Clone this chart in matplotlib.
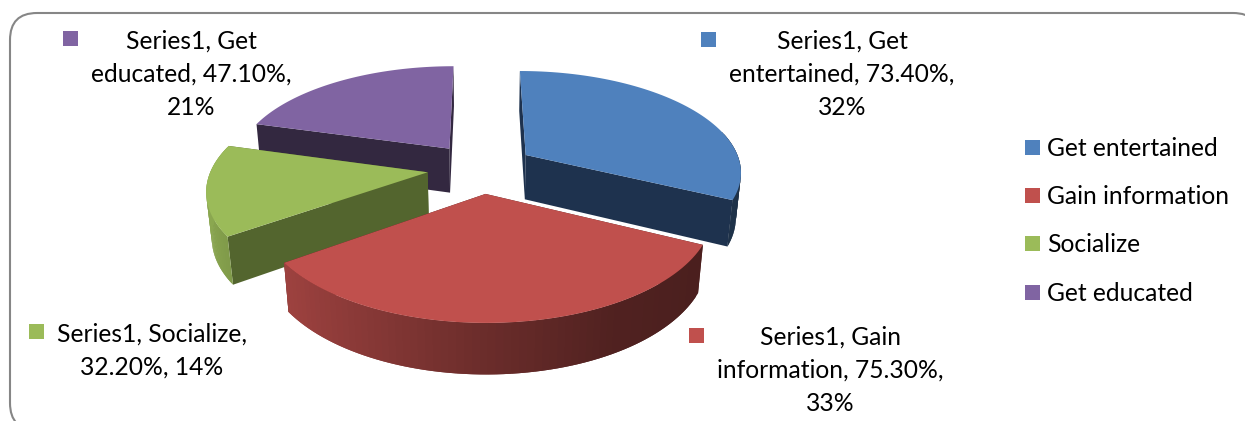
import numpy as np
import matplotlib
matplotlib.use("Agg")
import matplotlib.pyplot as plt
from matplotlib.patches import FancyBboxPatch, Rectangle

plt.rcParams['font.family'] = ['Lato', 'DejaVu Sans']

categories = ['Get entertained', 'Gain information', 'Socialize', 'Get educated']
values = [73.4, 75.3, 32.2, 47.1]

top_colors = ['#4F81BD', '#C0504D', '#9BBB59', '#8064A2']
cut_colors = ['#1E324E', '#4F1E1C', '#53652E', '#332840']

# where each data label sits: text centre x, first line y, key square x, y
label_lines = [
    ['Series1, Get', 'entertained, {v:.2f}%,', '{p:.0f}%'],
    ['Series1, Gain', 'information, {v:.2f}%,', '{p:.0f}%'],
    ['Series1, Socialize,', '{v:.2f}%, {p:.0f}%'],
    ['Series1, Get', 'educated, {v:.2f}%,', '{p:.0f}%'],
]
label_pos = [(842, 41, 701, 32), (830, 337, 689, 328), (152, 334, 29, 324), (191, 41, 63, 31)]
legend_y = [147.5, 195.5, 243.5, 292.5]

# camera for the tilted pie
cx, horizon = 481, -490
scale_x = 216
top_c, bot_c = 658, 717
tilt = 0.1527
depth = 0.02
explode = 0.249


def project(x, y, bottom=False):
    w = 1 + tilt * y + (depth if bottom else 0)
    c = bot_c if bottom else top_c
    return cx + scale_x * x / w, horizon + c / w


def wall_shade(x):
    # lighting along the outer wall, bright on the left and dark on the right
    return np.interp(x, [-1, -0.8, 0, 0.5, 1], [0.9, 0.82, 0.56, 0.42, 0.38])


def shaded(color, s):
    return tuple(np.array(matplotlib.colors.to_rgb(color)) * s)


def draw_slice(ax, start, end, top, cut):
    mid = (start + end) / 2
    ox, oy = explode * np.sin(mid), explode * np.cos(mid)
    th = np.linspace(start, end, 70)
    xs = ox + np.sin(th)
    ys = oy + np.cos(th)

    # the two cut faces
    for k in (0, -1):
        px = np.array([ox, xs[k]])
        py = np.array([oy, ys[k]])
        x0, y0 = project(px, py)
        x1, y1 = project(px, py, bottom=True)
        ax.fill(np.r_[x0, x1[::-1]], np.r_[y0, y1[::-1]], color=cut, lw=0, zorder=2)

    # outer wall as thin strips, each one overlapping the next to hide seams
    for i in range(len(th) - 1):
        # the back of the rim is turned away from the viewer
        if np.cos(th[i]) > 0.25:
            continue
        x0, y0 = project(xs[i:i + 3], ys[i:i + 3])
        x1, y1 = project(xs[i:i + 3], ys[i:i + 3], bottom=True)
        col = shaded(top, wall_shade(np.sin(th[i])))
        ax.fill(np.r_[x0, x1[::-1]], np.r_[y0, y1[::-1]], color=col, lw=0, zorder=2)

    # top face
    x_top, y_top = project(np.r_[ox, xs], np.r_[oy, ys])
    ax.fill(x_top, y_top, color=top, lw=0, zorder=2)


fig = plt.figure(figsize=(12.45, 4.21), dpi=100)
ax = fig.add_axes([0, 0, 1, 1])
ax.set_xlim(0, 1245)
ax.set_ylim(421, 0)
ax.axis('off')

frame = FancyBboxPatch((37, 40), 1196, 363, boxstyle='round,pad=27,rounding_size=27',
                       fc='white', ec='#868686', lw=1.5, zorder=1)
ax.add_patch(frame)

total = sum(values)
edges = np.r_[0, np.cumsum(values)] / total * 2 * np.pi

# back slices first so the front ones cover them
for i in [3, 0, 2, 1]:
    draw_slice(ax, edges[i], edges[i + 1], top_colors[i], cut_colors[i])

fs = 17.7
for i in range(len(values)):
    tx, ty, sx, sy = label_pos[i]
    pct = values[i] / total * 100
    for j, line in enumerate(label_lines[i]):
        ax.text(tx, ty + j * 33.3, line.format(v=values[i], p=pct), ha='center', va='center',
                fontsize=fs, color='black', zorder=3)
    ax.add_patch(Rectangle((sx, sy), 15, 15, color=top_colors[i], lw=0, zorder=3))

for i in range(len(categories)):
    ax.add_patch(Rectangle((1025, legend_y[i] - 7.5), 15, 15, color=top_colors[i], lw=0, zorder=3))
    ax.text(1047, legend_y[i] + 1, categories[i], ha='left', va='center', fontsize=fs, color='black', zorder=3)

fig.savefig('out.png', dpi=100)
